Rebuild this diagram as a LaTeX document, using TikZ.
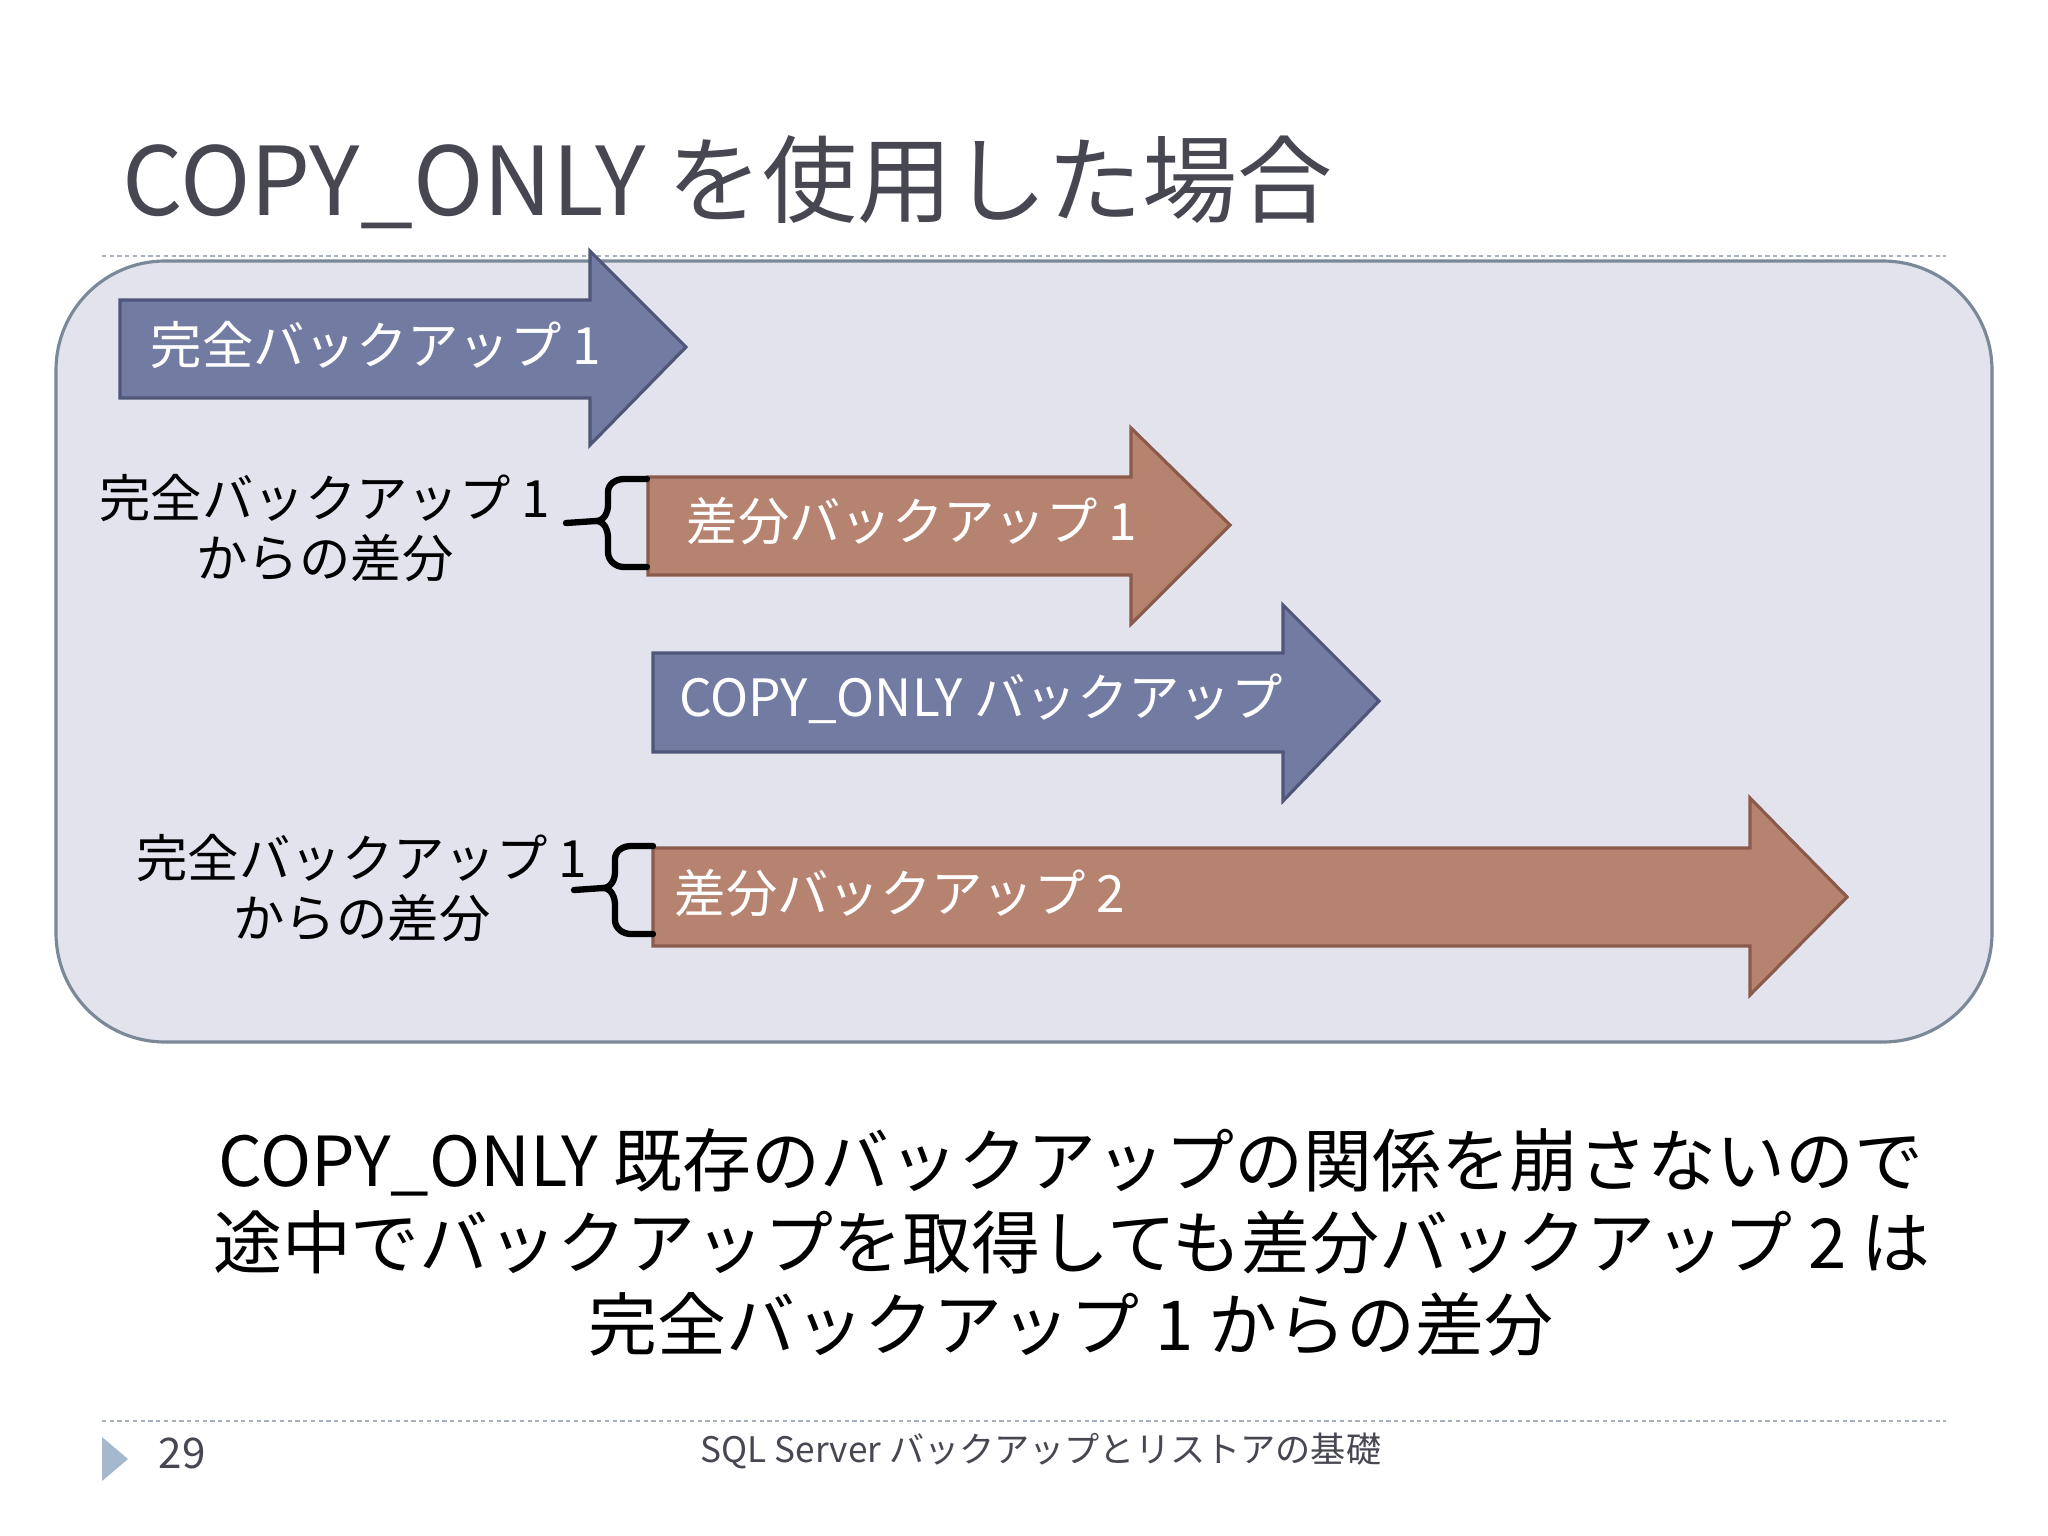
\documentclass[tikz,border=0pt]{standalone}
\usepackage{fontspec}
\setmainfont{Noto Sans CJK JP}
\definecolor{titlegray}{HTML}{474752}
\definecolor{panelfill}{HTML}{E3E3EE}
\definecolor{paneldraw}{HTML}{7A8898}
\definecolor{bluefill}{HTML}{727BA2}
\definecolor{bluedraw}{HTML}{4F5679}
\definecolor{brownfill}{HTML}{B78371}
\definecolor{browndraw}{HTML}{8A5B4B}
\definecolor{rulegray}{HTML}{A7B1BE}
\definecolor{markblue}{HTML}{A5B8CE}
\begin{document}
\begin{tikzpicture}[x=0.01cm,y=-0.01cm,
  rulestyle/.style={draw=rulegray,line width=0.8pt,dash pattern=on 1.2pt off 1pt},
  bluearrow/.style={fill=bluefill,draw=bluedraw,line width=0.9pt,line join=miter},
  brownarrow/.style={fill=brownfill,draw=browndraw,line width=0.9pt,line join=miter},
  arrowtext/.style={anchor=west,text=white,font=\fontsize{14.6pt}{17pt}\selectfont,inner sep=0pt},
  sidelabel/.style={align=center,text=black,font=\fontsize{14.6pt}{17pt}\selectfont,inner sep=0pt},
  bracestyle/.style={draw=black,line width=1.8pt,line join=round,line cap=round},
  bodytext/.style={align=center,text=black,font=\fontsize{19.6pt}{23pt}\selectfont,inner sep=0pt}]
\useasboundingbox (0,0) rectangle (2048,1536);
\fill[white] (0,0) rectangle (2048,1536);
% title
\node[anchor=base west,inner sep=0pt,text=titlegray,font=\fontsize{27pt}{32pt}\selectfont] (title) at (122,215) {COPY\_ONLY を使用した場合};
% top rule
\draw[rulestyle] (102,256) -- (1946,256);
% panel
\draw[fill=panelfill,draw=paneldraw,line width=0.9pt,rounded corners=31pt] (56,261) rectangle (1992,1042);
% arrow 1
\draw[bluearrow] (120,300) -- (590,300) -- (590,251) -- (686,347) -- (590,445) -- (590,398) -- (120,398) -- cycle;
\node[arrowtext] (a1) at (150,345) {完全バックアップ 1};
% arrow 2
\draw[brownarrow] (648,477) -- (1131,477) -- (1131,428) -- (1230,525) -- (1131,624) -- (1131,575) -- (648,575) -- cycle;
\node[arrowtext] (a2) at (686,521) {差分バックアップ 1};
% arrow 3
\draw[bluearrow] (653,653) -- (1283,653) -- (1283,605) -- (1379,701) -- (1283,801) -- (1283,752) -- (653,752) -- cycle;
\node[arrowtext] (a3) at (679,699) {COPY\_ONLY バックアップ};
% arrow 4
\draw[brownarrow] (653,848) -- (1750,848) -- (1750,798) -- (1847,897) -- (1750,995) -- (1750,946) -- (653,946) -- cycle;
\node[arrowtext] (a4) at (674,893) {差分バックアップ 2};
% side labels
\node[sidelabel] (l1) at (325,528) {完全バックアップ 1\\からの差分};
\node[sidelabel] (l2) at (362,888) {完全バックアップ 1\\からの差分};
% braces
\draw[bracestyle] (647,479) -- (624,479) to[out=180,in=90] (608,492) -- (608,505) to[out=-90,in=0] (596,521) -- (566,523);
\draw[bracestyle] (596,521) to[out=0,in=90] (608,538) -- (608,552) to[out=-90,in=180] (624,567) -- (647,567);
\draw[bracestyle] (653,846) -- (631,846) to[out=180,in=90] (615,859) -- (615,872) to[out=-90,in=0] (603,888) -- (574,890);
\draw[bracestyle] (603,888) to[out=0,in=90] (615,905) -- (615,920) to[out=-90,in=180] (631,934) -- (653,934);
% body text
\node[bodytext] (b1) at (1071,1162) {COPY\_ONLY 既存のバックアップの関係を崩さないので};
\node[bodytext] (b2) at (1072,1242) {途中でバックアップを取得しても差分バックアップ 2 は};
\node[bodytext] (b3) at (1071,1324) {完全バックアップ 1 からの差分};
% footer
\draw[rulestyle] (102,1421) -- (1946,1421);
\fill[markblue] (102,1437) -- (128,1459) -- (102,1481) -- cycle;
\node[anchor=west,inner sep=0pt,text=titlegray,font=\fontsize{12pt}{14pt}\selectfont] (pg) at (158,1453) {29};
\node[inner sep=0pt,text=titlegray,font=\fontsize{10pt}{12pt}\selectfont] (ft) at (1041,1451) {SQL Server バックアップとリストアの基礎};
\end{tikzpicture}
\end{document}
